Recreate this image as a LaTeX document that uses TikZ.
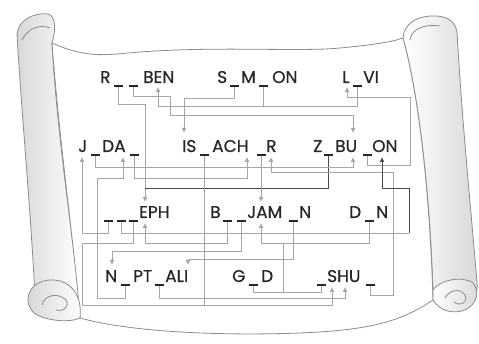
\documentclass[tikz,border=0pt]{standalone}
\usepackage{fontspec}
\setmainfont{Poppins}
\newfontfamily\wordfont{Poppins}[FakeBold=0.6]
\usetikzlibrary{arrows.meta}
\definecolor{ln}{HTML}{A6A6A6}
\definecolor{dk}{HTML}{4A4A4A}
\definecolor{tx}{HTML}{262626}
\definecolor{ol}{HTML}{8C8C8C}
\definecolor{sh}{HTML}{D8D8D8}
\tikzset{
  word/.style={anchor=base west, inner sep=0pt, font=\wordfont\fontsize{17}{17}\selectfont, text=tx},
  blank/.style={fill=tx, minimum width=9pt, minimum height=2pt, inner sep=0pt, draw=none},
  conn/.style={draw=ln, line width=0.9pt},
  darkconn/.style={draw=dk, line width=0.9pt},
  arr/.style={-{Latex[length=5pt,width=5pt]}},
  scroll/.style={draw=ol, line width=0.8pt},
}
\begin{document}
\begin{tikzpicture}[x=1pt,y=-1pt]
\useasboundingbox (0,0) rectangle (479,344);
\fill[white] (0,0) rectangle (479,344);
% ---------- scroll ----------
% right roll
\path[scroll, left color=white, right color=sh] (403,38) .. controls (404,24) and (416,17) .. (430,16) .. controls (445,15) and (455,20) .. (457,32) .. controls (462,120) and (470,200) .. (477,282) .. controls (479,296) and (470,308) .. (455,308) .. controls (444,308) and (436,300) .. (433,290) .. controls (430,200) and (420,100) .. (403,38) -- cycle;
\draw[scroll] (410,40) .. controls (412,28) and (425,24) .. (440,26);
% left roll
\path[scroll, left color=sh, right color=white] (17,34) .. controls (18,20) and (35,12) .. (48,14) .. controls (56,16) and (56,30) .. (52,43) .. controls (56,120) and (70,220) .. (80,300) -- (35,296) .. controls (30,200) and (22,120) .. (17,34) -- cycle;
\draw[scroll] (22,40) .. controls (28,28) and (40,24) .. (50,28);
% sheet
\path[scroll, fill=white] (52,43) .. controls (90,60) and (110,54) .. (140,52) .. controls (220,46) and (300,52) .. (340,48) .. controls (372,45) and (392,42) .. (403,38) .. controls (420,100) and (430,200) .. (433,300) .. controls (400,322) and (370,330) .. (300,333) .. controls (220,336) and (130,332) .. (80,318) .. controls (75,250) and (60,150) .. (52,43) -- cycle;
% bottom curls
\path[scroll, left color=sh, right color=white] (28,300) .. controls (28,284) and (45,277) .. (60,281) .. controls (75,285) and (82,300) .. (80,318) .. controls (70,323) and (45,321) .. (34,313) .. controls (30,309) and (28,304) .. (28,300) -- cycle;
\draw[scroll] (42,305) .. controls (44,295) and (58,292) .. (66,300) .. controls (70,306) and (64,312) .. (56,310);
\path[scroll, left color=white, right color=sh] (433,290) .. controls (440,280) and (460,276) .. (472,282) .. controls (480,290) and (478,304) .. (465,310) .. controls (455,314) and (440,312) .. (433,300) -- cycle;
\draw[scroll] (445,298) .. controls (450,288) and (464,288) .. (466,298) .. controls (466,304) and (458,306) .. (454,302);

% ---------- words ----------
% row 1
\node[word] (wR) at (100,83) {R};
\node[word] (wBEN) at (143,83) {BEN};
\node[word] (wS) at (217,83) {S};
\node[word] (wM) at (241,83) {M};
\node[word] (wON1) at (272,83) {ON};
\node[word] (wL) at (342,83) {L};
\node[word] (wVI) at (363,83) {VI};
% row 2
\node[word] (wJ) at (78,152) {J};
\node[word] (wDA) at (102,152) {DA};
\node[word] (wIS) at (182,152) {IS};
\node[word] (wACH) at (212,152) {ACH};
\node[word] (wR2) at (266,152) {R};
\node[word] (wZ) at (313,152) {Z};
\node[word] (wBU) at (335,152) {BU};
\node[word] (wON2) at (372,152) {ON};
% row 3
\node[word] (wEPH) at (139,218) {EPH};
\node[word] (wB) at (210,218) {B};
\node[word] (wJAM) at (247,218) {JAM};
\node[word] (wN1) at (299,218) {N};
\node[word] (wD) at (349,218) {D};
\node[word] (wN2) at (376,218) {N};
% row 4
\node[word] (wN3) at (105,282) {N};
\node[word] (wPT) at (133,282) {PT};
\node[word] (wALI) at (165,282) {ALI};
\node[word] (wG) at (232,282) {G};
\node[word] (wD2) at (261,282) {D};
\node[word] (wSHU) at (327,282) {SHU};

% ---------- blanks ----------
\node[blank] (rb1) at (118,86) {};
\node[blank] (rb2) at (133,86) {};
\node[blank] (sm1) at (234,86) {};
\node[blank] (sm2) at (263,86) {};
\node[blank] (lv1) at (357,86) {};
\node[blank] (jd1) at (95,155) {};
\node[blank] (jd2) at (134,155) {};
\node[blank] (is1) at (204,155) {};
\node[blank] (is2) at (261,155) {};
\node[blank] (zb1) at (328,155) {};
\node[blank] (zb2) at (367,155) {};
\node[blank] (ep1) at (108,221) {};
\node[blank] (ep2) at (121,221) {};
\node[blank] (ep3) at (133,221) {};
\node[blank] (bj1) at (227,221) {};
\node[blank] (bj2) at (241,221) {};
\node[blank] (bj3) at (293,221) {};
\node[blank] (dn1) at (369,221) {};
\node[blank] (np1) at (125,285) {};
\node[blank] (np2) at (159,285) {};
\node[blank] (gd1) at (253,285) {};
\node[blank] (sh1) at (321,285) {};
\node[blank] (sh2) at (370,285) {};

% ---------- arrow targets ----------
\coordinate (benE) at (158,87);
\coordinate (levL) at (347,87);
\coordinate (isI) at (184,133);
\coordinate (buUt) at (353,133);
\coordinate (judJ) at (82,157);
\coordinate (judA) at (123,157);
\coordinate (achH) at (247,157);
\coordinate (achR) at (271,157);
\coordinate (buUb) at (353,157);
\coordinate (zonO) at (382,157);
\coordinate (ephEt) at (145,202);
\coordinate (jamAt) at (261,202);
\coordinate (ephEb) at (145,223);
\coordinate (jamAb) at (261,223);
\coordinate (napN) at (112,265);
\coordinate (napI) at (188,265);
\coordinate (shuS) at (332,287);
\coordinate (shuH) at (345,287);

% ---------- connectors ----------
\draw[conn,arr] (rb1.south) -- (118,104) -- (145,104) -- (ephEt);
\draw[darkconn] (zb1.south) -- (328,188) -- (145,188);
\draw[conn,arr] (rb2.south) -- (133,96) -- (170,96) -- (170,115) -- (353,115) -- (buUt);
\draw[conn,arr] (lv1.south) -- (357,106) -- (158,106) -- (benE);
\draw[conn] (sm2.south) -- (263,106);
\draw[conn,arr] (sm1.south) -- (234,98) -- (184,98) -- (isI);
\draw[conn,arr] (zb2.south) -- (367,165) -- (410,165) -- (410,97) -- (347,97) -- (levL);
\draw[conn,arr] (jd1.south) -- (95,167) -- (353,167) -- (buUb);
\draw[conn,arr] (np1.south) -- (125,298) -- (97,298) -- (97,178) -- (123,178) -- (judA);
\draw[conn,arr] (jd2.south) -- (134,178) -- (247,178) -- (achH);
\draw[conn,arr] (is2.south) -- (jamAt);
\draw[conn,arr] (sh2.south) -- (370,295) -- (393,295) -- (393,172) -- (271,172) -- (achR);
\draw[conn] (ep2.south) -- (121,233) -- (409,233);
\draw[darkconn,arr] (409,233) -- (409,188) -- (382,188) -- (zonO);
\draw[conn,arr] (ep1.south) -- (108,233) -- (82,233) -- (judJ);
\draw[conn,arr] (ep3.south) -- (133,243) -- (82,243) -- (82,305) -- (332,305) -- (shuS);
\draw[conn] (is1.south) -- (204,305);
\draw[conn,arr] (bj1.south) -- (227,243) -- (145,243) -- (ephEb);
\draw[conn,arr] (bj2.south) -- (241,251) -- (112,251) -- (napN);
\draw[conn,arr] (bj3.south) -- (293,259) -- (188,259) -- (napI);
\draw[conn,arr] (dn1.south) -- (369,243) -- (261,243) -- (jamAb);
\draw[conn] (gd1.south) -- (253,292) -- (321,292) -- (sh1.south);
\draw[conn] (283,292) -- (283,243);
\draw[conn,arr] (np2.south) -- (159,298) -- (345,298) -- (shuH);
\end{tikzpicture}
\end{document}
